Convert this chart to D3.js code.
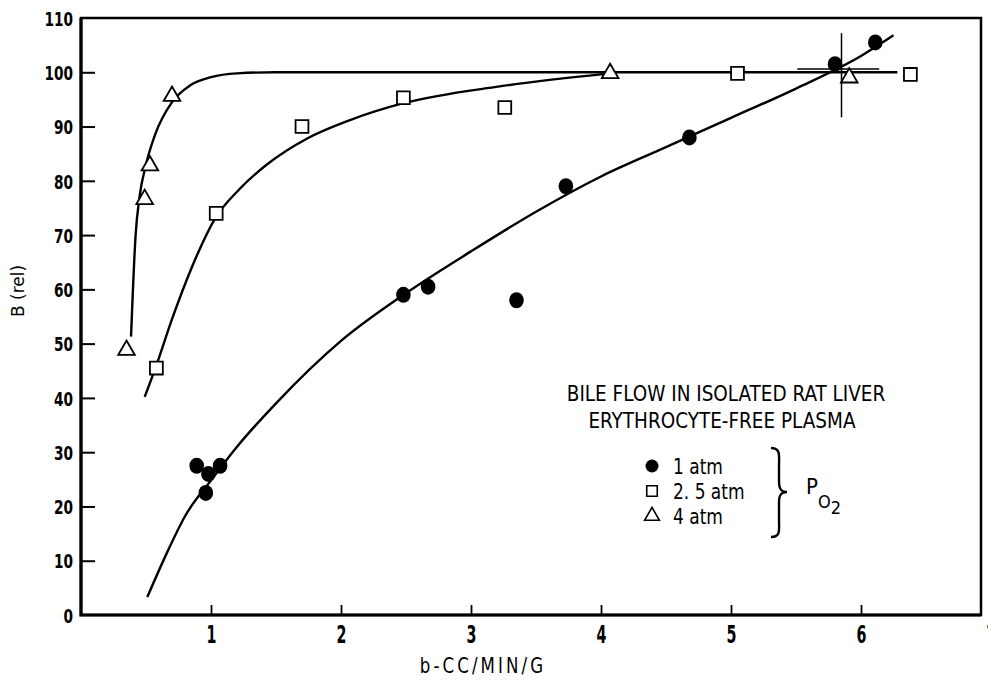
<!DOCTYPE html>
<html>
<head>
<meta charset="utf-8">
<script src="https://cdn.jsdelivr.net/npm/d3@7"></script>
<style>
  body { margin: 0; background: #fff; }
  svg text { font-family: "DejaVu Sans Condensed", "DejaVu Sans", sans-serif; fill: #000; }
</style>
</head>
<body>
<div id="chart"></div>
<script>
const atm1X = [0.89, 0.98, 1.07, 0.96, 2.48, 2.67, 3.35, 3.73, 4.68, 5.8, 6.11];
const atm1Y = [27.5, 26, 27.5, 22.5, 59, 60.5, 58, 79, 88, 101.5, 105.5];
const atm25X = [0.58, 1.04, 1.7, 2.48, 3.26, 5.05, 6.38];
const atm25Y = [45.5, 74, 90, 95.3, 93.5, 99.8, 99.6];
const atm4X = [0.35, 0.49, 0.53, 0.7, 4.07, 5.91];
const atm4Y = [48.8, 76.6, 82.8, 95.6, 99.8, 99];

// hand-drawn fitted curves
const curve1X = [0.51, 0.66, 0.8, 1.0, 1.2, 1.5, 2.0, 2.5, 3.0, 3.5, 4.0, 4.5, 5.0, 5.5, 6.0, 6.25];
const curve1Y = [3.3, 11.4, 18.2, 24.8, 31, 39, 50.5, 59.3, 67, 74.3, 80.8, 86.2, 91.6, 97, 103, 106.8];
const curve25X = [0.49, 0.58, 0.7, 0.86, 1.03, 1.22, 1.43, 1.74, 2.07, 2.48, 3.22, 4.07];
const curve25Y = [40.2, 46, 54.5, 64.5, 73, 78.5, 83, 87.8, 91.2, 94.3, 97.4, 99.8];
const curve4X = [0.385, 0.42, 0.45, 0.5, 0.57, 0.7, 0.84, 1.0, 1.2, 1.5, 4.07, 6.28];
const curve4Y = [51.3, 70, 77, 83, 88.5, 94.5, 97.6, 99.1, 99.8, 100, 100, 100];

// cross-shaped error bars
const errX = 5.85, errYLo = 91.7, errYHi = 107.2;
const errY = 100.6, errXLo = 5.51, errXHi = 6.14;

const xTicks = [1, 2, 3, 4, 5, 6, 7];
const yTicks = [0, 10, 20, 30, 40, 50, 60, 70, 80, 90, 100, 110];
const legendLabels = ["1 atm", "2. 5 atm", "4 atm"];

const width = 988;
const height = 689;

const x = d3.scaleLinear().domain([0, 7]).range([81, 991]);
const y = d3.scaleLinear().domain([0, 110]).range([615, 18]);

// squeeze text horizontally to look like the narrow typeface of the original
function condense(sel, k) {
  sel.each(function () {
    const len = this.getComputedTextLength();
    d3.select(this).attr("textLength", len * k).attr("lengthAdjust", "spacingAndGlyphs");
  });
}

const svg = d3
  .select("#chart")
  .append("svg")
  .attr("width", width)
  .attr("height", height);

// frame
svg
  .append("rect")
  .attr("x", x(0))
  .attr("y", y(110))
  .attr("width", 981 - x(0))
  .attr("height", y(0) - y(110))
  .attr("fill", "none")
  .attr("stroke", "#000")
  .attr("stroke-width", 2.5);
svg
  .append("path")
  .attr("d", `M${x(0)},${y(110)}V${y(0)}H981`)
  .attr("fill", "none")
  .attr("stroke", "#000")
  .attr("stroke-width", 3.2);

// y axis, ticks pointing inward
const yAxis = svg
  .append("g")
  .attr("transform", `translate(${x(0)},0)`)
  .call(d3.axisLeft(y).tickValues(yTicks).tickSize(-14).tickPadding(8).tickFormat(d3.format("d")));
yAxis.select(".domain").remove();
yAxis.selectAll("line").attr("stroke-width", 2).filter((d) => d === 0 || d === 110).remove();
yAxis
  .selectAll("text")
  .style("font-size", "20px")
  .style("font-weight", "bold")
  .attr("dy", "0.36em")
  .call(condense, 0.76);

// x axis
const xAxis = svg
  .append("g")
  .attr("transform", `translate(0,${y(0)})`)
  .call(d3.axisBottom(x).tickValues(xTicks).tickSize(-10).tickPadding(11).tickFormat(d3.format("d")));
xAxis.select(".domain").remove();
xAxis.selectAll("line").attr("stroke-width", 1.8).filter((d) => d === 7).remove();
xAxis
  .selectAll("text")
  .style("font-size", "24px")
  .style("font-weight", "bold")
  .call(condense, 0.66);

svg
  .append("text")
  .attr("x", 483)
  .attr("y", 673)
  .attr("text-anchor", "middle")
  .style("font-size", "21px")
  .style("letter-spacing", "3.5px")
  .text("b-CC/MIN/G")
  .call(condense, 0.88);

svg
  .append("text")
  .attr("transform", `translate(24,291) rotate(-90)`)
  .attr("text-anchor", "middle")
  .style("font-family", "DejaVu Sans")
  .style("font-size", "17px")
  .text("B (rel)");

// curves
const line = d3
  .line()
  .x((d) => x(d[0]))
  .y((d) => y(d[1]))
  .curve(d3.curveMonotoneX);

[
  [curve1X, curve1Y],
  [curve25X, curve25Y],
  [curve4X, curve4Y],
].forEach(([xs, ys]) => {
  svg
    .append("path")
    .datum(xs.map((v, i) => [v, ys[i]]))
    .attr("d", line)
    .attr("fill", "none")
    .attr("stroke", "#000")
    .attr("stroke-width", 2.4);
});

// error cross
svg
  .append("line")
  .attr("x1", x(errX)).attr("x2", x(errX))
  .attr("y1", y(errYHi)).attr("y2", y(errYLo))
  .attr("stroke", "#000").attr("stroke-width", 1.5);
svg
  .append("line")
  .attr("x1", x(errXLo)).attr("x2", x(errXHi))
  .attr("y1", y(errY)).attr("y2", y(errY))
  .attr("stroke", "#000").attr("stroke-width", 1.5);

// markers
const sqSym = d3.symbol().type(d3.symbolSquare).size(165);
const triSym = d3.symbol().type(d3.symbolTriangle).size(120);

svg
  .append("g")
  .selectAll("ellipse")
  .data(atm1X.map((v, i) => [v, atm1Y[i]]))
  .enter()
  .append("ellipse")
  .attr("cx", (d) => x(d[0]))
  .attr("cy", (d) => y(d[1]))
  .attr("rx", 7.3)
  .attr("ry", 8)
  .attr("fill", "#000");

svg
  .append("g")
  .selectAll("path")
  .data(atm25X.map((v, i) => [v, atm25Y[i]]))
  .enter()
  .append("path")
  .attr("d", sqSym)
  .attr("transform", (d) => `translate(${x(d[0])},${y(d[1])})`)
  .attr("fill", "#fff")
  .attr("stroke", "#000")
  .attr("stroke-width", 1.8);

svg
  .append("g")
  .selectAll("path")
  .data(atm4X.map((v, i) => [v, atm4Y[i]]))
  .enter()
  .append("path")
  .attr("d", triSym)
  .attr("transform", (d) => `translate(${x(d[0])},${y(d[1])})`)
  .attr("fill", "#fff")
  .attr("stroke", "#000")
  .attr("stroke-width", 1.8);

// legend block
svg
  .append("text")
  .attr("x", 726)
  .attr("y", 401)
  .attr("text-anchor", "middle")
  .style("font-size", "22px")
  .text("BILE FLOW IN ISOLATED RAT LIVER")
  .call(condense, 0.93);
svg
  .append("text")
  .attr("x", 722)
  .attr("y", 428)
  .attr("text-anchor", "middle")
  .style("font-size", "22px")
  .text("ERYTHROCYTE-FREE PLASMA")
  .call(condense, 0.93);

const legY = [466, 491, 516];
const leg = svg.append("g");
leg.append("circle").attr("cx", 652).attr("cy", legY[0]).attr("r", 6.5).attr("fill", "#000");
leg
  .append("path")
  .attr("d", d3.symbol().type(d3.symbolSquare).size(110))
  .attr("transform", `translate(652,${legY[1]})`)
  .attr("fill", "#fff").attr("stroke", "#000").attr("stroke-width", 1.6);
leg
  .append("path")
  .attr("d", d3.symbol().type(d3.symbolTriangle).size(95))
  .attr("transform", `translate(652,${legY[2]})`)
  .attr("fill", "#fff").attr("stroke", "#000").attr("stroke-width", 1.6);
leg
  .selectAll("text")
  .data(legendLabels)
  .enter()
  .append("text")
  .attr("x", 673)
  .attr("y", (d, i) => legY[i] + 8)
  .style("font-size", "22px")
  .text((d) => d)
  .call(condense, 0.86);

// brace
svg
  .append("path")
  .attr("d", "M771,448 C781,448 779,456 779,466 L779,482 C779,489 781,492 787,492 C781,492 779,495 779,502 L779,520 C779,530 781,537 771,537")
  .attr("fill", "none")
  .attr("stroke", "#000")
  .attr("stroke-width", 2.4);

const po2 = svg.append("text").attr("x", 806).attr("y", 494).style("font-size", "22px");
po2.append("tspan").text("P");
po2.append("tspan").attr("dy", 14).style("font-size", "18px").text("O");
po2.append("tspan").attr("dy", 6).style("font-size", "18px").text("2");
</script>
</body>
</html>
